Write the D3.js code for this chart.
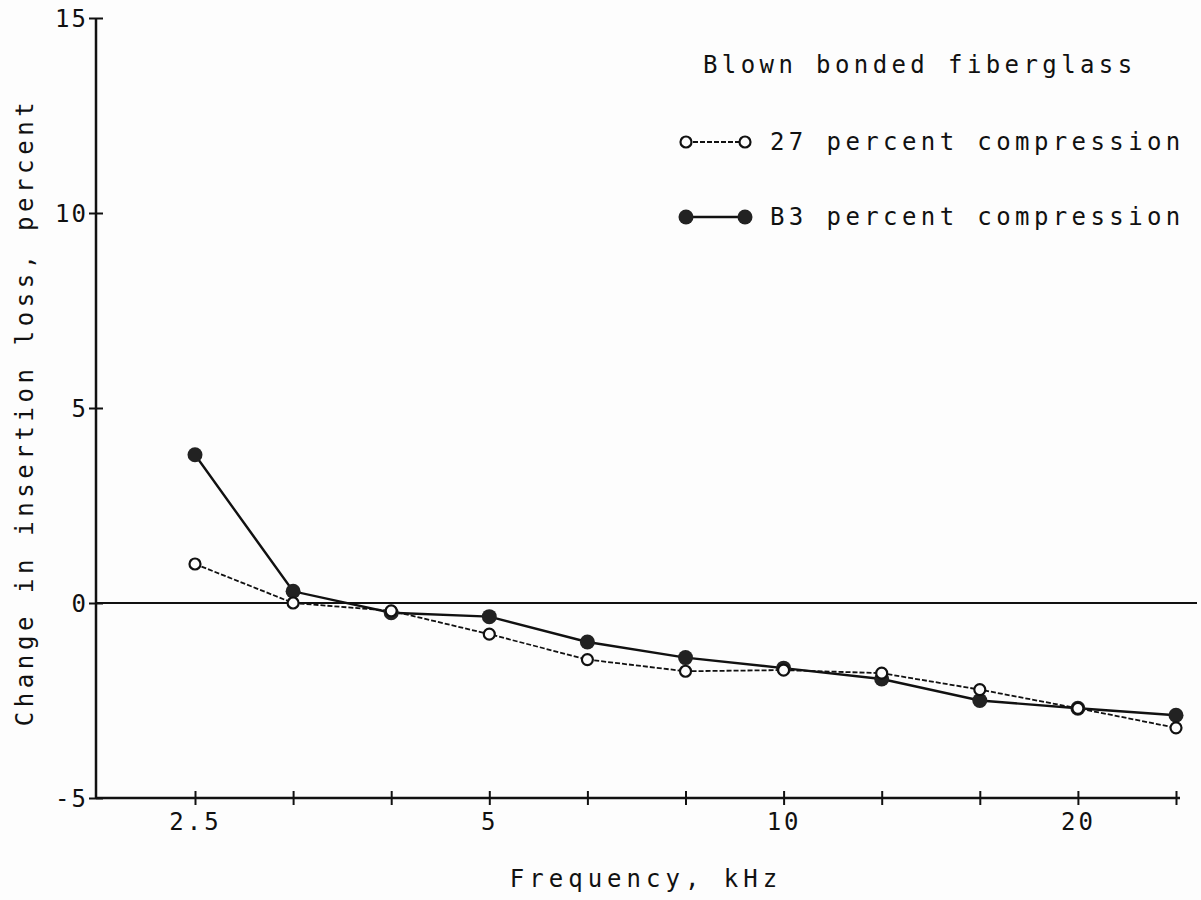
<!DOCTYPE html>
<html>
<head>
<meta charset="utf-8">
<script src="https://cdn.jsdelivr.net/npm/d3@7"></script>
<style>
  body { margin: 0; background: #fdfdfd; }
  svg { display: block; }
  text { font-family: "DejaVu Sans Mono", monospace; fill: #111; }
</style>
</head>
<body>
<div id="chart"></div>
<script>
// 1/3 octave band centre frequencies, kHz (nominal)
const freqs = [2.5, 3.15, 4, 5, 6.3, 8, 10, 12.5, 16, 20, 25];
const xLabels = { 2.5: "2.5", 5: "5", 10: "10", 20: "20" };
const yTicks = [-5, 0, 5, 10, 15];

// change in insertion loss, percent
const comp27 = [1.0, 0.0, -0.2, -0.8, -1.45, -1.75, -1.72, -1.8, -2.22, -2.7, -3.2];
const comp83 = [3.8, 0.3, -0.25, -0.35, -1.0, -1.4, -1.67, -1.95, -2.5, -2.7, -2.88];

const legendTitle = "Blown bonded fiberglass";
const seriesNames = ["27 percent compression", "B3 percent compression"];

const W = 1201, H = 900;
const axisLeft = 96, axisRight = 1180;

// nominal band -> exact band centre, so the bands sit evenly on the log axis
const exact = f => Math.pow(10, Math.round(10 * Math.log10(f)) / 10);

const svg = d3.select("#chart").append("svg")
    .attr("width", W)
    .attr("height", H);

// scales
const xLog = d3.scaleLog()
    .domain([exact(2.5), exact(25)])
    .range([195, 1176]);
const x = f => xLog(exact(f));

const y = d3.scaleLinear()
    .domain([-5, 15])
    .range([798, 18]);

// y axis
const gy = svg.append("g")
    .attr("transform", `translate(${axisLeft},0)`)
    .call(d3.axisLeft(y).tickValues(yTicks).tickSize(6).tickPadding(8).tickFormat(d => d));
gy.select(".domain").remove();
gy.selectAll(".tick line").attr("x1", -7).attr("x2", 7).attr("stroke", "#111").attr("stroke-width", 2);
gy.selectAll(".tick text")
    .attr("x", -8)
    .attr("font-size", 24)
    .style("letter-spacing", "2px")
    .attr("dy", "0.36em");

svg.append("line")
    .attr("x1", axisLeft).attr("x2", axisLeft)
    .attr("y1", y(15)).attr("y2", y(-5))
    .attr("stroke", "#111").attr("stroke-width", 2.5);

// x axis
const gx = svg.append("g")
    .attr("transform", `translate(0,${y(-5)})`)
    .call(d3.axisBottom(xLog).tickValues(freqs.map(exact)).tickSize(6).tickPadding(9)
        .tickFormat((d, i) => xLabels[freqs[i]] || ""));
gx.select(".domain").remove();
gx.selectAll(".tick line").attr("y1", -7).attr("y2", 7).attr("stroke", "#111").attr("stroke-width", 2);
gx.selectAll(".tick text")
    .attr("font-size", 24)
    .style("letter-spacing", "3px");

svg.append("line")
    .attr("x1", axisLeft).attr("x2", axisRight)
    .attr("y1", y(-5)).attr("y2", y(-5))
    .attr("stroke", "#111").attr("stroke-width", 2.5);

// zero line
svg.append("line")
    .attr("x1", axisLeft).attr("x2", 1197)
    .attr("y1", y(0)).attr("y2", y(0))
    .attr("stroke", "#111").attr("stroke-width", 2);

// axis titles
svg.append("text")
    .attr("x", 646).attr("y", 887)
    .attr("text-anchor", "middle")
    .attr("font-size", 24)
    .style("letter-spacing", "5px")
    .text("Frequency, kHz");

svg.append("text")
    .attr("transform", "translate(33,412) rotate(-90)")
    .attr("text-anchor", "middle")
    .attr("font-size", 24)
    .style("letter-spacing", "4.6px")
    .text("Change in insertion loss, percent");

// series
const line = d3.line()
    .x((d, i) => x(freqs[i]))
    .y(d => y(d));

svg.append("path")
    .datum(comp27)
    .attr("d", line)
    .attr("fill", "none")
    .attr("stroke", "#111")
    .attr("stroke-width", 1.8)
    .attr("stroke-dasharray", "5,2");

svg.append("path")
    .datum(comp83)
    .attr("d", line)
    .attr("fill", "none")
    .attr("stroke", "#111")
    .attr("stroke-width", 2.4);

svg.selectAll(".p83")
    .data(comp83)
    .enter()
    .append("circle")
    .attr("class", "p83")
    .attr("cx", (d, i) => x(freqs[i]))
    .attr("cy", d => y(d))
    .attr("r", 7.5)
    .attr("fill", "#222");

svg.selectAll(".p27")
    .data(comp27)
    .enter()
    .append("circle")
    .attr("class", "p27")
    .attr("cx", (d, i) => x(freqs[i]))
    .attr("cy", d => y(d))
    .attr("r", 5.5)
    .attr("fill", "#fdfdfd")
    .attr("stroke", "#111")
    .attr("stroke-width", 2.2);

// legend
svg.append("text")
    .attr("x", 703).attr("y", 73)
    .attr("font-size", 24)
    .style("letter-spacing", "4.4px")
    .text(legendTitle);

const legendRows = [
    { name: seriesNames[0], y: 142, filled: false },
    { name: seriesNames[1], y: 217, filled: true }
];

legendRows.forEach(r => {
    svg.append("line")
        .attr("x1", 686).attr("x2", 745)
        .attr("y1", r.y).attr("y2", r.y)
        .attr("stroke", "#111")
        .attr("stroke-width", r.filled ? 2.4 : 1.8)
        .attr("stroke-dasharray", r.filled ? null : "5,2");
    [686, 745].forEach(cx => {
        svg.append("circle")
            .attr("cx", cx).attr("cy", r.y)
            .attr("r", r.filled ? 7.5 : 5.5)
            .attr("fill", r.filled ? "#222" : "#fdfdfd")
            .attr("stroke", r.filled ? "none" : "#111")
            .attr("stroke-width", 2.2);
    });
    svg.append("text")
        .attr("x", 770).attr("y", r.y + 8)
        .attr("font-size", 24)
        .style("letter-spacing", "4.4px")
        .text(r.name);
});
</script>
</body>
</html>
